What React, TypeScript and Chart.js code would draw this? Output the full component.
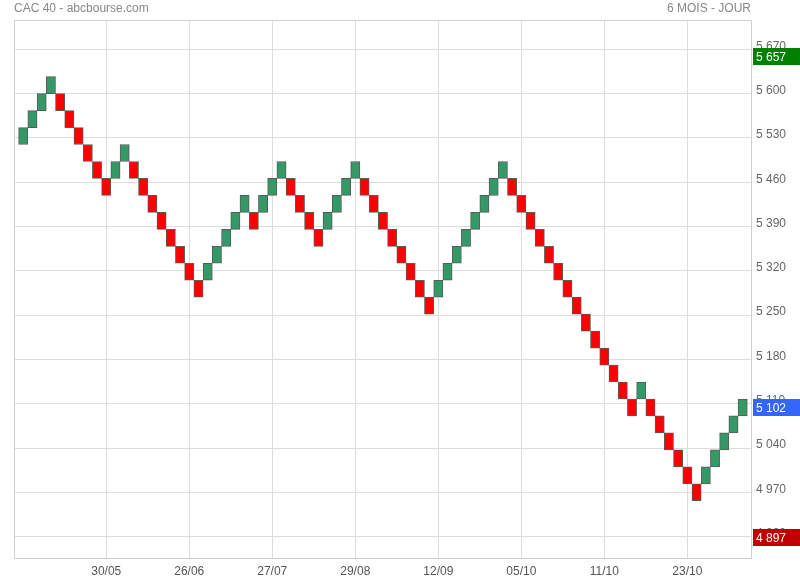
import React, { useEffect, useRef } from "react";
import { Chart, registerables } from "chart.js";

Chart.register(...registerables);

// ---- Data ----
const BRICK_SIZE = 26.8;

// bottom (low) value of each renko brick, in chronological order
const brickLow = [
  5519.6, 5546.4, 5573.2, 5600.0, 5573.2, 5546.4, 5519.6, 5492.8, 5466.0, 5439.2,
  5466.0, 5492.8, 5466.0, 5439.2, 5412.4, 5385.6, 5358.8, 5332.0, 5305.2, 5278.4,
  5305.2, 5332.0, 5358.8, 5385.6, 5412.4, 5385.6, 5412.4, 5439.2, 5466.0, 5439.2,
  5412.4, 5385.6, 5358.8, 5385.6, 5412.4, 5439.2, 5466.0, 5439.2, 5412.4, 5385.6,
  5358.8, 5332.0, 5305.2, 5278.4, 5251.6, 5278.4, 5305.2, 5332.0, 5358.8, 5385.6,
  5412.4, 5439.2, 5466.0, 5439.2, 5412.4, 5385.6, 5358.8, 5332.0, 5305.2, 5278.4,
  5251.6, 5224.8, 5198.0, 5171.2, 5144.4, 5117.6, 5090.8, 5117.6, 5090.8, 5064.0,
  5037.2, 5010.4, 4983.6, 4956.8, 4983.6, 5010.4, 5037.2, 5064.0, 5090.8,
];

// direction of each brick: 1 = up (green), -1 = down (red)
const brickDir = [
  1, 1, 1, 1, -1, -1, -1, -1, -1, -1,
  1, 1, -1, -1, -1, -1, -1, -1, -1, -1,
  1, 1, 1, 1, 1, -1, 1, 1, 1, -1,
  -1, -1, -1, 1, 1, 1, 1, -1, -1, -1,
  -1, -1, -1, -1, -1, 1, 1, 1, 1, 1,
  1, 1, 1, -1, -1, -1, -1, -1, -1, -1,
  -1, -1, -1, -1, -1, -1, -1, 1, -1, -1,
  -1, -1, -1, -1, 1, 1, 1, 1, 1,
];

const dateLabels = ["30/05", "26/06", "27/07", "29/08", "12/09", "05/10", "11/10", "23/10"];
const dateTickIndex = [9, 18, 27, 36, 45, 54, 63, 72];

const yTickValues = [4900, 4970, 5040, 5110, 5180, 5250, 5320, 5390, 5460, 5530, 5600, 5670];

const markerValues = [5657, 5102, 4897];
const markerColors = ["#008000", "#3366ff", "#c00000"];

const titleLeft = "CAC 40 - abcbourse.com";
const titleRight = "6 MOIS - JOUR";

const Y_MIN = 4866.4;
const Y_MAX = 5716.3;
const X_MIN = -1.0;
const X_MAX = 78.9;

const FONT = '"Liberation Sans", Arial, sans-serif';

const fmt = (v: number) => String(Math.round(v)).replace(/\B(?=(\d{3})+(?!\d))/g, " ");

export default function App() {
  const ref = useRef<HTMLCanvasElement | null>(null);

  useEffect(() => {
    if (!ref.current) return;

    const decor = {
      id: "decor",
      beforeDatasetsDraw(chart: any) {
        const { ctx, chartArea } = chart;
        ctx.save();
        ctx.strokeStyle = "#d0d0d0";
        ctx.lineWidth = 1;
        ctx.strokeRect(
          Math.round(chartArea.left) + 0.5,
          Math.round(chartArea.top) + 0.5,
          Math.round(chartArea.right) - Math.round(chartArea.left),
          Math.round(chartArea.bottom) - Math.round(chartArea.top)
        );
        ctx.restore();
      },
      afterDraw(chart: any) {
        const { ctx, chartArea } = chart;
        const yScale = chart.scales.y;
        ctx.save();
        ctx.font = `12px ${FONT}`;
        ctx.fillStyle = "#888888";
        ctx.textBaseline = "middle";
        ctx.textAlign = "left";
        ctx.fillText(titleLeft, 14, 9);
        ctx.textAlign = "right";
        ctx.fillText(titleRight, chartArea.right, 9);

        markerValues.forEach((v, i) => {
          const y = yScale.getPixelForValue(v) - 1;
          ctx.fillStyle = markerColors[i];
          ctx.fillRect(753, Math.round(y - 8.5), 47, 17);
          ctx.fillStyle = "#ffffff";
          ctx.textAlign = "left";
          ctx.textBaseline = "middle";
          ctx.fillText(fmt(v), 756, Math.round(y) + 0.5);
        });
        ctx.restore();
      },
    };

    const chart = new Chart(ref.current, {
      type: "bar",
      data: {
        datasets: [
          {
            data: brickLow.map((low, i) => ({ x: i, y: [low, low + BRICK_SIZE] })) as any,
            backgroundColor: brickDir.map((d) => (d > 0 ? "#339966" : "#ff0000")),
            borderColor: "#5a5a5a",
            borderWidth: 1,
            borderSkipped: false,
            barPercentage: 1,
            categoryPercentage: 1,
          },
        ],
      },
      options: {
        animation: false,
        responsive: false,
        devicePixelRatio: 1,
        layout: { padding: { left: 14, top: 20, right: 0, bottom: 0 } },
        plugins: {
          legend: { display: false },
          tooltip: { enabled: false },
          title: { display: false },
        },
        scales: {
          x: {
            type: "linear",
            position: "bottom",
            min: X_MIN,
            max: X_MAX,
            offset: false,
            afterBuildTicks: (scale: any) => {
              scale.ticks = dateTickIndex.map((v) => ({ value: v }));
            },
            afterFit: (scale: any) => {
              scale.height = 22;
            },
            grid: { color: "#dddddd", drawTicks: false, lineWidth: 1, offset: false },
            border: { display: false },
            ticks: {
              autoSkip: false,
              maxRotation: 0,
              padding: 6,
              color: "#555555",
              font: { family: FONT, size: 12 },
              callback: (value: any) => {
                const idx = dateTickIndex.indexOf(Number(value));
                return idx >= 0 ? dateLabels[idx] : "";
              },
            },
          },
          y: {
            type: "linear",
            position: "right",
            min: Y_MIN,
            max: Y_MAX,
            afterBuildTicks: (scale: any) => {
              scale.ticks = yTickValues.map((v) => ({ value: v }));
            },
            afterFit: (scale: any) => {
              scale.width = 49;
            },
            grid: { color: "#dddddd", drawTicks: false, lineWidth: 1 },
            border: { display: false },
            ticks: {
              autoSkip: false,
              padding: 5,
              labelOffset: -3,
              color: "#666666",
              font: { family: FONT, size: 12 },
              callback: (value: any) => fmt(Number(value)),
            },
          },
        },
      },
      plugins: [decor],
    } as any);

    return () => chart.destroy();
  }, []);

  return (
    <div style={{ position: "fixed", left: 0, top: 0, width: 800, height: 580, background: "#ffffff" }}>
      <canvas ref={ref} width={800} height={580} style={{ display: "block", width: 800, height: 580 }} />
    </div>
  );
}
